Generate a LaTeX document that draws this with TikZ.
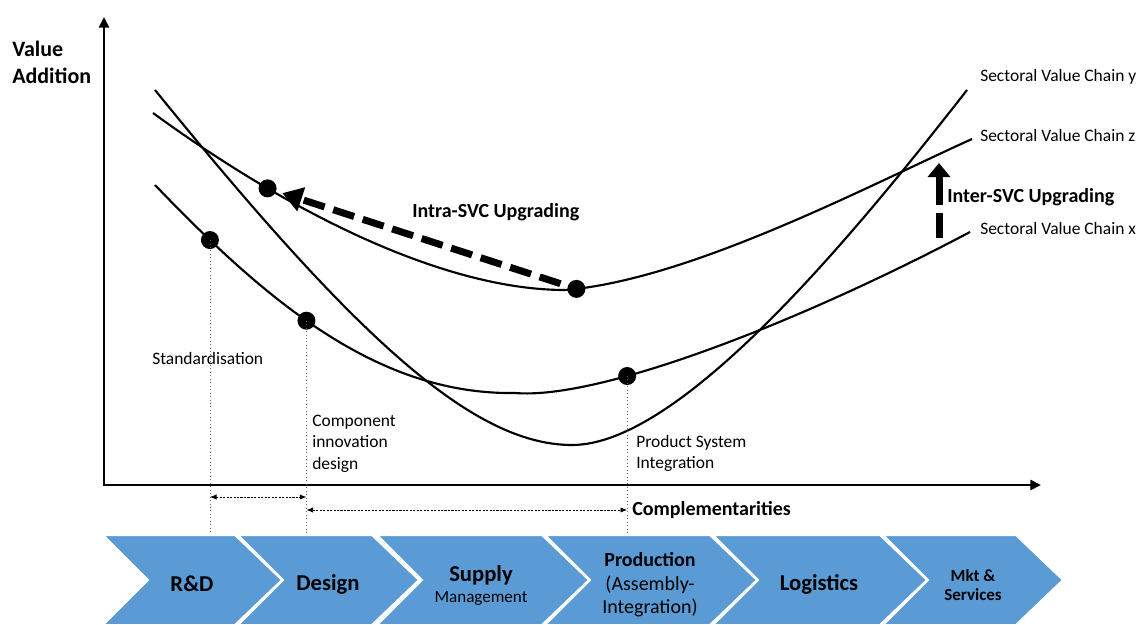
\documentclass[tikz,border=0pt]{standalone}
\usepackage{fontspec}
\setmainfont{Carlito}
\usetikzlibrary{arrows.meta}
\definecolor{chev}{HTML}{5B9BD5}
\begin{document}
\begin{tikzpicture}[x=0.75pt,y=-0.75pt,
  axis/.style={line width=2.2pt, black},
  curve/.style={line width=1.6pt, black},
  dot/.style={circle, fill=black, inner sep=0pt, minimum size=13.5pt},
  guide/.style={black!60, line width=0.6pt, dotted},
  span/.style={black, line width=0.6pt, dash pattern=on 1.6pt off 1pt,
    {Latex[length=5pt,width=4pt]}-{Latex[length=5pt,width=4pt]}},
  lbl/.style={font=\fontsize{13.1pt}{16.1pt}\selectfont, inner sep=0pt, align=left},
  blbl/.style={font=\bfseries\fontsize{15pt}{18pt}\selectfont, inner sep=0pt},
  chevbox/.style={fill=chev, draw=white, line width=1.5pt},
  cbold/.style={font=\bfseries\fontsize{17pt}{20pt}\selectfont, inner sep=0pt},
  creg/.style={font=\fontsize{12.8pt}{15pt}\selectfont, inner sep=0pt},
  bigdash/.style={line width=5.25pt, black}
]
\useasboundingbox (0,0) rectangle (1143,625);

% axes
\coordinate (origin) at (104,485);
\coordinate (ytip) at (104,17);
\coordinate (xtip) at (1041,485);
\draw[axis, {Triangle[length=8pt,width=7.5pt]}-{Triangle[length=8pt,width=7.5pt]}] (ytip) -- (origin) -- (xtip);

\node[anchor=west, align=left, inner sep=0pt, font=\bfseries\fontsize{16.5pt}{20.25pt}\selectfont] (va) at (12,62) {Value\\Addition};

% sectoral value chain y
\draw[curve] (155,90) .. controls (350,330) and (470,445) .. (572,445)
  .. controls (680,445) and (850,240) .. (967,90);
% sectoral value chain z
\draw[curve] (153,113) .. controls (300,220) and (450,290) .. (565,290)
  node[dot, pos=0.26] (za) {}
  .. controls (690,280) and (870,185) .. (972,139)
  node[dot, pos=0.03] (zb) {};
% sectoral value chain x
\draw[curve] (155,185) .. controls (270,305) and (380,395) .. (515,393)
  node[dot, pos=0.16] (xa) {}
  node[dot, pos=0.44] (xb) {}
  .. controls (600,400) and (800,322) .. (970,232)
  node[dot, pos=0.32] (xc) {};

% guides
\coordinate (ctop) at (0,536);
\draw[guide] (xa.center) -- (xa.center |- ctop);
\draw[guide] (xb.center) -- (xb.center |- ctop);
\draw[guide] (xc.center) -- (xc.center |- ctop);
\coordinate (r1) at (0,497);
\coordinate (r2) at (0,510);
\draw[span] (xa.center |- r1) -- (xb.center |- r1);
\draw[span] (xb.center |- r2) -- (xc.center |- r2);

% labels
\node[lbl, anchor=west] (std) at (152,358) {Standardisation};
\node[lbl, anchor=north west] (comp) at (312,414.5) {Component\\innovation\\design};
\node[lbl, anchor=north west] (psi) at (636,435) {Product System\\Integration};
\node[blbl, anchor=west] (compl) at (632,510) {Complementarities};
\node[blbl, anchor=west] (intra) at (412,212) {Intra-SVC Upgrading};
\node[blbl, anchor=west] (inter) at (947,197) {Inter-SVC Upgrading};
\node[lbl, anchor=west] (svcy) at (980,77) {Sectoral Value Chain y};
\node[lbl, anchor=west] (svcz) at (980,135) {Sectoral Value Chain z};
\node[lbl, anchor=west] (svcx) at (980,228) {Sectoral Value Chain x};

% upgrading arrows
\draw[bigdash, dash pattern=on 16.5pt off 6.75pt, shorten <=5pt, shorten >=4pt,
  -{Triangle[length=15pt,width=18pt]}] (zb) -- (za);
\coordinate (ia) at (939,238);
\coordinate (ib) at (939,163);
\draw[bigdash, dash pattern=on 18.75pt off 6pt on 60pt off 0pt,
  -{Triangle[length=10.5pt,width=16.5pt]}] (ia) -- (ib);

% value chain chevrons
\path[chevbox] (103,535) -- (235,535) -- (282,580) -- (235,625) -- (103,625) -- (148,580) -- cycle;
\path[chevbox] (238,535) -- (372,535) -- (419,580) -- (372,625) -- (238,625) -- (283,580) -- cycle;
\path[chevbox] (377,535) -- (542,535) -- (589,580) -- (542,625) -- (377,625) -- (422,580) -- cycle;
\path[chevbox] (545,535) -- (710,535) -- (757,580) -- (710,625) -- (545,625) -- (590,580) -- cycle;
\path[chevbox] (713,535) -- (880,535) -- (927,580) -- (880,625) -- (713,625) -- (758,580) -- cycle;
\path[chevbox] (883,535) -- (1016,535) -- (1063,580) -- (1016,625) -- (883,625) -- (928,580) -- cycle;

\node[cbold] (rd) at (192,584) {R\&D};
\node[cbold] (design) at (328,584) {Design};
\node[cbold] (supply) at (481,575) {Supply};
\node[creg] (mgmt) at (481,598) {Management};
\node[align=center, inner sep=0pt, font=\fontsize{15pt}{17.6pt}\selectfont] (prod) at (650,585) {\textbf{Production}\\(Assembly-\\Integration)};
\node[cbold] (logi) at (819,584) {Logistics};
\node[align=center, inner sep=0pt, font=\bfseries\fontsize{12.75pt}{14.6pt}\selectfont] (mkt) at (973,585) {Mkt \&\\Services};
\end{tikzpicture}
\end{document}
